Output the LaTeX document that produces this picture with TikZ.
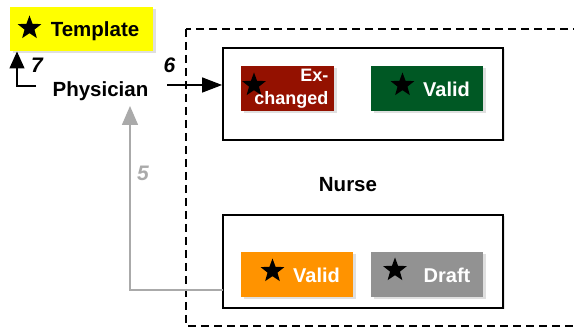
\documentclass[tikz,border=0pt]{standalone}
\usepackage{fontspec}
\setmainfont{Liberation Sans}
\usetikzlibrary{shapes.geometric,shadows,arrows.meta}
\definecolor{exred}{RGB}{148,17,0}
\definecolor{vgreen}{RGB}{0,88,36}
\definecolor{vorange}{RGB}{255,147,0}
\definecolor{dgray}{RGB}{146,146,146}
\definecolor{ygold}{RGB}{255,255,0}
\definecolor{lgray}{RGB}{170,170,170}
\tikzset{
  card/.style={minimum width=112pt,minimum height=45pt,inner sep=0pt,draw=none,
    drop shadow={opacity=0.25,shadow xshift=2.5pt,shadow yshift=-2.5pt}},
  stargly/.style={star,star points=5,star point ratio=2.4,fill=black,draw=none,minimum size=25pt,inner sep=0pt},
  wtxt/.style={text=white,font=\fontsize{20}{22}\selectfont\bfseries,inner sep=0pt},
  extxt/.style={text=white,font=\fontsize{18}{22.5}\selectfont\bfseries,inner sep=0pt},
  btxt/.style={text=black,font=\fontsize{20.5}{22}\selectfont\bfseries,inner sep=0pt},
  numl/.style={font=\fontsize{21}{22}\selectfont\bfseries\itshape,inner sep=0pt},
  frame/.style={draw=black,line width=1.8pt,fill=white,
    drop shadow={opacity=0.2,shadow xshift=1.5pt,shadow yshift=-1.5pt}},
  conn/.style={line width=1.4pt},
}
\begin{document}
\begin{tikzpicture}[x=1pt,y=-1pt]
\useasboundingbox (0,0) rectangle (574,328);
\fill[white] (0,0) rectangle (574,328);
% dashed nurse container
\draw[line width=1.8pt,dash pattern=on 8pt off 5pt] (186,29) rectangle (600,326);
% inner frames
\node[frame,minimum width=280pt,minimum height=92pt,inner sep=0pt] (topbox) at (363,94) {};
\node[frame,minimum width=280pt,minimum height=93pt,inner sep=0pt] (botbox) at (363,261.5) {};
% template
\node[card,fill=ygold,minimum width=143pt,minimum height=44pt] (template) at (81.5,29) {};
\node[stargly] (s0) at (29.5,28) {};
\node[btxt] (tt) at (95,31) {Template};
% exchanged
\node[card,fill=exred,minimum width=93pt] (exch) at (287.5,88.5) {};
\node[stargly] (s1) at (254,85) {};
\node[extxt,align=right,anchor=east] (et) at (328.5,88.5) {Ex-\\changed};
% valid green
\node[card,fill=vgreen] (vg) at (427,88.5) {};
\node[stargly] (s2) at (402.5,85) {};
\node[wtxt] (vgt) at (446.5,89) {Valid};
% valid orange
\node[card,fill=vorange] (vo) at (297,274.5) {};
\node[stargly] (s3) at (272.5,271) {};
\node[wtxt] (vot) at (316.5,275) {Valid};
% draft
\node[card,fill=dgray] (dr) at (427,274.5) {};
\node[stargly] (s4) at (395,270) {};
\node[wtxt] (drt) at (447,275) {Draft};
% labels
\node[btxt] (phys) at (100.5,91) {Physician};
\node[btxt] (nurse) at (348,185) {Nurse};
% connectors
\coordinate (p6) at (167,85);
\draw[conn,-{Triangle[length=20pt,width=15pt]}] (p6) -- (p6 -| topbox.west);
\node[numl] (l6) at (169.5,65) {6};
\coordinate (p7) at (36,86);
\draw[conn,-{Triangle[length=17pt,width=15pt]}] (p7) -- (17,86) -- (17,51.5);
\node[numl] (l7) at (37,65) {7};
\coordinate (p5) at (223,290);
\draw[conn,draw=lgray,-{Triangle[length=19pt,width=16pt]}] (p5) -- (130,290) -- (130,106);
\node[numl,text=lgray] (l5) at (143,173) {5};
\end{tikzpicture}
\end{document}
